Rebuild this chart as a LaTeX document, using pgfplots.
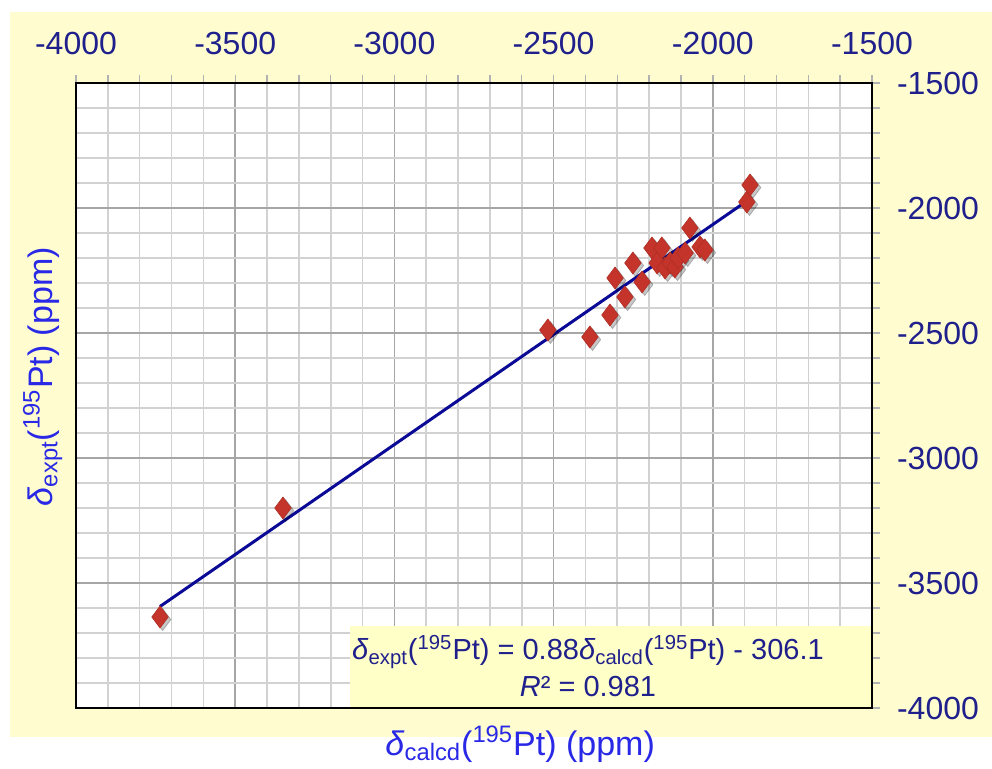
\documentclass[border=0pt]{standalone}
\usepackage{fontspec}
\setmainfont{Liberation Sans}
\usepackage{pgfplots}
\pgfplotsset{compat=1.18}
\definecolor{bgyellow}{RGB}{255,253,208}
\definecolor{boxyellow}{RGB}{255,255,200}
\definecolor{ticknavy}{RGB}{32,32,140}
\definecolor{labelblue}{RGB}{40,40,230}
\definecolor{fitblue}{RGB}{10,10,150}
\definecolor{markred}{RGB}{196,52,42}

\newcommand{\dlt}{\textit{δ}}

\begin{document}
\begin{tikzpicture}
% page background: white, then the yellow chart area
\fill[white] (-38pt,-30pt) rectangle (458pt,354pt);
\path[use as bounding box] (-38pt,-30pt) rectangle (458pt,354pt);
\fill[bgyellow] (-33pt,-14.5pt) rectangle (458pt,348pt);
\begin{axis}[
  at={(0,0)}, anchor=south west,
  scale only axis,
  width=398pt, height=312.5pt,
  xmin=-4000, xmax=-1500,
  ymin=-4000, ymax=-1500,
  xtick={-4000,-3500,-3000,-2500,-2000,-1500},
  xticklabels={-4000,-3500,-3000,-2500,-2000,-1500},
  ytick={-4000,-3500,-3000,-2500,-2000,-1500},
  yticklabels={-4000,-3500,-3000,-2500,-2000,-1500},
  minor tick num=4,
  xtick pos=right, ytick pos=right,
  xticklabel pos=right, yticklabel pos=right,
  tick align=outside,
  major tick length=4pt, minor tick length=4pt,
  tick style={draw=gray!60, line width=0.7pt},
  grid=both,
  major grid style={draw=gray!70, line width=0.8pt},
  minor grid style={draw=gray!35, line width=0.8pt},
  axis background/.style={fill=white},
  axis line style={black, line width=1pt},
  ticklabel style={font=\fontsize{16}{19}\selectfont, text=ticknavy},
  xticklabel style={yshift=6.5pt},
  yticklabel style={xshift=5pt},
  xlabel={\dlt\textsubscript{calcd}(\textsuperscript{195}Pt) (ppm)},
  ylabel={\dlt\textsubscript{expt}(\textsuperscript{195}Pt) (ppm)},
  label style={font=\fontsize{17}{20}\selectfont, text=labelblue},
  xlabel style={at={(rel axis cs:0.558,-0.0752)}, anchor=base},
  ylabel style={at={(rel axis cs:-0.030,0.53)}, anchor=base, rotate=0},
]
% shadows of the markers
\addplot[only marks, mark=diamond*, mark size=5.5pt,
  mark options={draw=none, fill=black, opacity=0.22, xshift=1.3pt, yshift=-1.3pt}]
  coordinates {
  (-3736,-3636) (-3350,-3200) (-2518,-2488) (-2386,-2516) (-2323,-2428)
  (-2307,-2280) (-2276,-2356) (-2251,-2220) (-2222,-2296) (-2191,-2160)
  (-2160,-2160) (-2175,-2220) (-2150,-2240) (-2134,-2220) (-2119,-2236)
  (-2109,-2200) (-2087,-2180) (-2072,-2080) (-2040,-2156) (-2025,-2168)
  (-1893,-1976) (-1883,-1908)};
% measured vs calculated shifts
\addplot[only marks, mark=diamond*, mark size=5.5pt,
  mark options={draw=markred!90!black, fill=markred, line width=0.3pt}]
  coordinates {
  (-3736,-3636) (-3350,-3200) (-2518,-2488) (-2386,-2516) (-2323,-2428)
  (-2307,-2280) (-2276,-2356) (-2251,-2220) (-2222,-2296) (-2191,-2160)
  (-2160,-2160) (-2175,-2220) (-2150,-2240) (-2134,-2220) (-2119,-2236)
  (-2109,-2200) (-2087,-2180) (-2072,-2080) (-2040,-2156) (-2025,-2168)
  (-1893,-1976) (-1883,-1908)};
% linear fit
\addplot[fitblue, line width=1.5pt, no marks]
  coordinates {(-3736,-3593.8) (-1880,-1960.5)};
% equation box
\fill[boxyellow] (axis cs:-3140,-4000) rectangle (axis cs:-1500,-3670);
\draw[black, line width=1pt] (rel axis cs:0,0) rectangle (rel axis cs:1,1);
\node[text=ticknavy, font=\fontsize{14.5}{17}\selectfont, align=center]
  at (axis cs:-2392,-3775)
  {\dlt\textsubscript{expt}(\textsuperscript{195}Pt) = 0.88\dlt\textsubscript{calcd}(\textsuperscript{195}Pt) - 306.1};
\node[text=ticknavy, font=\fontsize{14.5}{17}\selectfont]
  at (axis cs:-2392,-3915) {\textit{R}² = 0.981};
\end{axis}
\end{tikzpicture}
\end{document}
